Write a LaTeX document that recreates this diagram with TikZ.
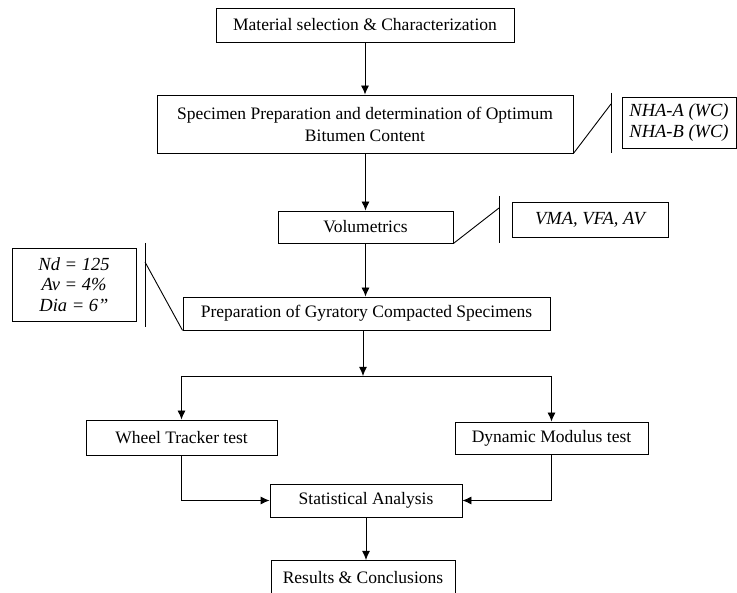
\documentclass[tikz,border=0pt]{standalone}
\usepackage{fontspec}
\setmainfont{Liberation Serif}
\usetikzlibrary{arrows.meta}

\tikzset{
  stepbox/.style={draw, line width=0.9pt, align=center, inner sep=0pt,
    font=\fontsize{17.5}{22}\selectfont},
  notebox/.style={draw, line width=0.9pt, align=center, inner sep=0pt,
    font=\fontsize{18.5}{20.5}\selectfont\itshape},
  flow/.style={line width=0.9pt, -{Latex[length=9pt,width=8pt]}},
  brace/.style={line width=0.9pt}
}

\begin{document}
\begin{tikzpicture}[x=1pt,y=-1pt]
  \useasboundingbox (0,0) rectangle (737,593);
  \clip (0,0) rectangle (737,593);

	%# MAIN STEPS
  \node[stepbox, minimum width=298, minimum height=34] (mat) at (365,25) {Material selection \& Characterization};
  \node[stepbox, minimum width=416, minimum height=58] (spec) at (365,124) {Specimen Preparation and determination of Optimum\\Bitumen Content};
  \node[stepbox, minimum width=175, minimum height=32] (vol) at (365.5,227) {Volumetrics};
  \node[stepbox, minimum width=367, minimum height=33] (prep) at (366.5,313.5) {Preparation of Gyratory Compacted Specimens};
  \node[stepbox, minimum width=191, minimum height=35] (wheel) at (181.5,437.5) {Wheel Tracker test};
  \node[stepbox, minimum width=193, minimum height=32] (dyn) at (551.5,438) {Dynamic Modulus test};
  \node[stepbox, minimum width=192, minimum height=33] (stat) at (366,500.5) {Statistical Analysis};
  \node[stepbox, minimum width=184, minimum height=50, anchor=north] (res) at (363,560) {};
  \node[font=\fontsize{17.5}{22}\selectfont] (restext) at (363,578) {Results \& Conclusions};

	%# SIDE NOTES
  \node[notebox, minimum width=114, minimum height=51] (nha) at (679,122.5) {NHA-A (WC)\\NHA-B (WC)};
  \node[notebox, minimum width=156, minimum height=35] (vma) at (590,219.5) {VMA, VFA, AV};
  \node[notebox, minimum width=124, minimum height=73] (nd) at (74,284.5) {Nd = 125\\Av = 4\%\\Dia = 6''};

	%# BRACKETS
  \coordinate (b1t) at (611,93);
  \coordinate (b1b) at (611,153);
  \coordinate (b1m) at (611,104);
  \draw[brace] (b1t) -- (b1b);
  \draw[brace] (spec.south east) -- (b1m);
  \coordinate (b2t) at (499,196);
  \coordinate (b2b) at (499,243);
  \coordinate (b2m) at (499,208);
  \draw[brace] (b2t) -- (b2b);
  \draw[brace] (vol.south east) -- (b2m);
  \coordinate (b3t) at (145,243);
  \coordinate (b3b) at (145,327);
  \coordinate (b3m) at (145,262);
  \draw[brace] (b3t) -- (b3b);
  \draw[brace] (b3m) -- (prep.south west);

	%# ARROWS
  \draw[flow] (mat.south) -- (mat.south |- spec.north);
  \draw[flow] (vol.north |- spec.south) -- (vol.north);
  \draw[flow] (vol.south) -- (vol.south |- prep.north);
  \coordinate (split) at (363,376);
  \draw[flow] (split |- prep.south) -- (split);
  \draw[brace] (wheel.north |- split) -- (dyn.north |- split);
  \draw[flow] (wheel.north |- split) -- (wheel.north);
  \draw[flow] (dyn.north |- split) -- (dyn.north);
  \draw[flow] (wheel.south) |- (stat.west);
  \draw[flow] (dyn.south) |- (stat.east);
  \draw[flow] (stat.south) -- (stat.south |- res.north);
\end{tikzpicture}
\end{document}
